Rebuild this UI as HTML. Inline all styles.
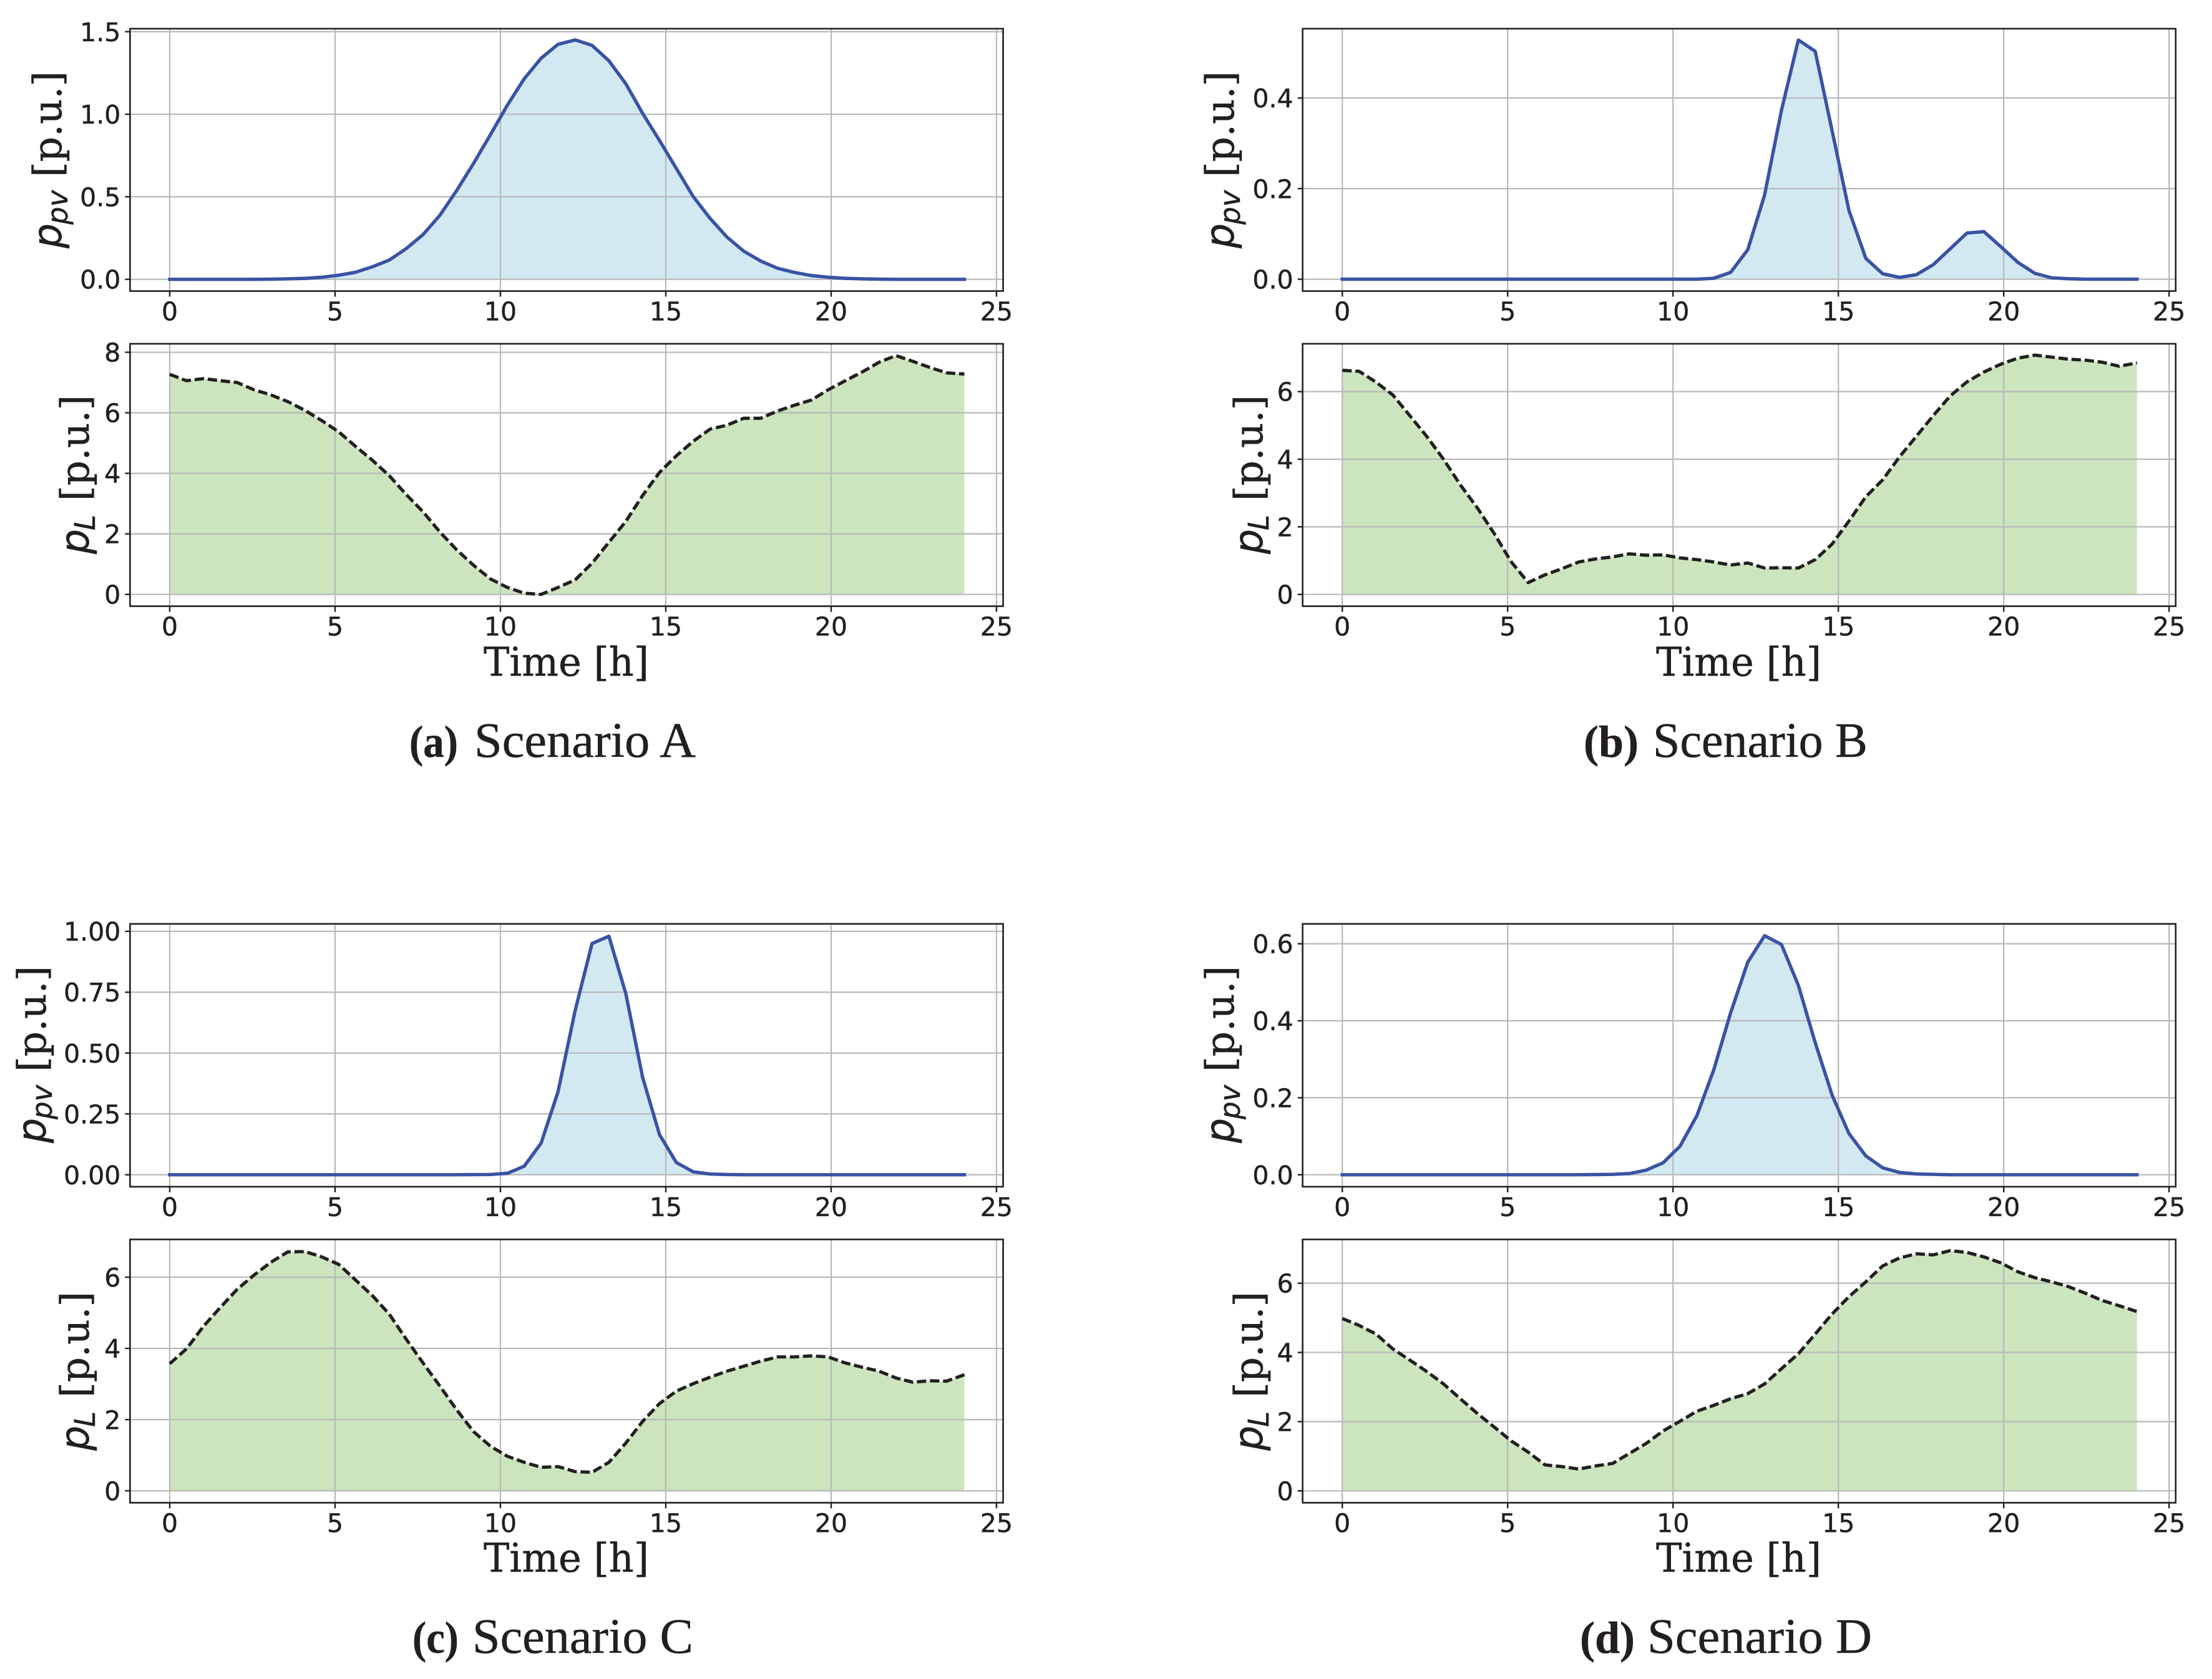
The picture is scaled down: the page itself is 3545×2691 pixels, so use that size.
<!DOCTYPE html>
<html lang="en">
<head>
<meta charset="utf-8">
<title>PV and load profiles for scenarios A to D</title>
<style>
html,body{margin:0;padding:0;background:#fff}
svg{display:block}
text{fill:#231f20;stroke:#231f20;stroke-width:0.5px}
.serif{font-family:"DejaVu Serif","Liberation Serif",serif}
.sans{font-family:"DejaVu Sans","Liberation Sans",sans-serif}
.cap{font-family:"Liberation Serif",serif;font-size:79px}
.capb{font-family:"Liberation Serif",serif;font-size:72px;font-weight:bold}
.xt{font-family:"DejaVu Serif","Liberation Serif",serif;font-size:64px}
.yl{font-size:63px}
.math{font-family:"DejaVu Sans","Liberation Sans",sans-serif;font-style:italic}
</style>
</head>
<body>
<svg id="fig" xmlns="http://www.w3.org/2000/svg" width="3545" height="2691" viewBox="0 0 3545 2691">
<rect width="3545" height="2691" fill="#fff"/>

<g id="marks"></g>

<!-- y-axis titles -->
<g class="yl" transform="translate(98,398) rotate(-90)"><text class="math">p</text><text class="math" x="38" y="10" font-size="45">pv</text><text class="serif" x="114">[p.u.]</text></g>
<g class="yl" transform="translate(142,888) rotate(-90)"><text class="math">p</text><text class="math" x="38" y="10" font-size="45">L</text><text class="serif" x="85">[p.u.]</text></g>
<g class="yl" transform="translate(1977,398) rotate(-90)"><text class="math">p</text><text class="math" x="38" y="10" font-size="45">pv</text><text class="serif" x="114">[p.u.]</text></g>
<g class="yl" transform="translate(2023,888) rotate(-90)"><text class="math">p</text><text class="math" x="38" y="10" font-size="45">L</text><text class="serif" x="85">[p.u.]</text></g>
<g class="yl" transform="translate(73,1832) rotate(-90)"><text class="math">p</text><text class="math" x="38" y="10" font-size="45">pv</text><text class="serif" x="114">[p.u.]</text></g>
<g class="yl" transform="translate(142,2325) rotate(-90)"><text class="math">p</text><text class="math" x="38" y="10" font-size="45">L</text><text class="serif" x="85">[p.u.]</text></g>
<g class="yl" transform="translate(1977,1832) rotate(-90)"><text class="math">p</text><text class="math" x="38" y="10" font-size="45">pv</text><text class="serif" x="114">[p.u.]</text></g>
<g class="yl" transform="translate(2023,2325) rotate(-90)"><text class="math">p</text><text class="math" x="38" y="10" font-size="45">L</text><text class="serif" x="85">[p.u.]</text></g>

<!-- x-axis titles -->
<text class="xt" x="775" y="1083" textLength="265" lengthAdjust="spacingAndGlyphs">Time [h]</text>
<text class="xt" x="2654" y="1083" textLength="265" lengthAdjust="spacingAndGlyphs">Time [h]</text>
<text class="xt" x="775" y="2519" textLength="265" lengthAdjust="spacingAndGlyphs">Time [h]</text>
<text class="xt" x="2654" y="2519" textLength="265" lengthAdjust="spacingAndGlyphs">Time [h]</text>

<!-- captions -->
<g><text class="capb" x="656" y="1213" textLength="78" lengthAdjust="spacingAndGlyphs">(a)</text><text class="cap" x="760" y="1213" textLength="355" lengthAdjust="spacingAndGlyphs">Scenario A</text></g>
<g><text class="capb" x="2538" y="1213" textLength="88" lengthAdjust="spacingAndGlyphs">(b)</text><text class="cap" x="2649" y="1213" textLength="344" lengthAdjust="spacingAndGlyphs">Scenario B</text></g>
<g><text class="capb" x="661" y="2649" textLength="74" lengthAdjust="spacingAndGlyphs">(c)</text><text class="cap" x="757" y="2649" textLength="354" lengthAdjust="spacingAndGlyphs">Scenario C</text></g>
<g><text class="capb" x="2532" y="2649" textLength="88" lengthAdjust="spacingAndGlyphs">(d)</text><text class="cap" x="2640" y="2649" textLength="360" lengthAdjust="spacingAndGlyphs">Scenario D</text></g>
</svg>

<script>
// ---------- data ----------
const timeHours = [0,0.51,1.02,1.53,2.04,2.55,3.06,3.57,4.09,4.6,5.11,5.62,6.13,6.64,7.15,7.66,8.17,8.68,9.19,9.7,10.21,10.72,11.23,11.74,12.26,12.77,13.28,13.79,14.3,14.81,15.32,15.83,16.34,16.85,17.36,17.87,18.38,18.89,19.4,19.91,20.43,20.94,21.45,21.96,22.47,22.98,23.49,24.03];

const pvA = [0,0,0,0,0,0,0.001,0.003,0.006,0.0126,0.025,0.043,0.076,0.117,0.186,0.271,0.388,0.539,0.703,0.877,1.055,1.215,1.339,1.423,1.45,1.417,1.324,1.185,1.005,0.841,0.671,0.501,0.369,0.256,0.17,0.111,0.067,0.042,0.023,0.013,0.006,0.003,0.001,0,0,0,0,0];
const loadA = [7.27,7.06,7.13,7.06,7.0,6.76,6.59,6.37,6.08,5.74,5.37,4.89,4.43,3.92,3.3,2.73,2.06,1.47,0.96,0.51,0.23,0.04,0,0.23,0.48,1.03,1.72,2.41,3.27,4.03,4.58,5.06,5.46,5.59,5.82,5.82,6.06,6.25,6.42,6.76,7.06,7.35,7.67,7.89,7.7,7.5,7.32,7.28];

const pvB = [0,0,0,0,0,0,0,0,0,0,0,0,0,0,0,0,0,0,0,0,0,0,0.002,0.015,0.065,0.186,0.373,0.528,0.503,0.328,0.152,0.046,0.012,0.004,0.01,0.032,0.067,0.102,0.105,0.072,0.037,0.013,0.003,0.001,0,0,0,0];
const loadB = [6.63,6.6,6.28,5.9,5.29,4.68,4.0,3.24,2.55,1.79,0.96,0.35,0.58,0.76,0.96,1.05,1.11,1.2,1.16,1.17,1.08,1.03,0.96,0.87,0.93,0.78,0.79,0.78,1.03,1.49,2.17,2.89,3.39,4.07,4.68,5.29,5.87,6.29,6.58,6.81,6.99,7.08,7.02,6.96,6.93,6.87,6.75,6.85];

const pvC = [0,0,0,0,0,0,0,0,0,0,0,0,0,0,0,0,0,0,0.0005,0.001,0.006,0.035,0.13,0.34,0.675,0.95,0.98,0.745,0.4,0.165,0.05,0.012,0.003,0.001,0,0,0,0,0,0,0,0,0,0,0,0,0,0];
const loadC = [3.57,3.99,4.62,5.15,5.66,6.06,6.42,6.71,6.72,6.57,6.36,5.92,5.48,4.96,4.26,3.59,2.94,2.27,1.66,1.25,0.97,0.8,0.66,0.68,0.54,0.52,0.8,1.34,1.95,2.45,2.8,3.01,3.19,3.36,3.5,3.64,3.76,3.76,3.79,3.76,3.59,3.47,3.36,3.17,3.05,3.09,3.08,3.26];

const pvD = [0,0,0,0,0,0,0,0,0,0,0,0,0,0,0,0.0005,0.001,0.003,0.012,0.031,0.074,0.153,0.272,0.42,0.552,0.621,0.598,0.492,0.343,0.207,0.107,0.049,0.018,0.006,0.002,0.001,0,0,0,0,0,0,0,0,0,0,0,0];
const loadD = [4.98,4.78,4.53,4.1,3.78,3.45,3.09,2.66,2.23,1.84,1.44,1.12,0.75,0.7,0.63,0.72,0.79,1.08,1.37,1.73,2.01,2.3,2.47,2.66,2.81,3.09,3.53,3.96,4.53,5.11,5.61,6.04,6.5,6.73,6.85,6.82,6.94,6.89,6.76,6.59,6.33,6.16,6.04,5.9,5.71,5.5,5.35,5.18];

const xTicks = [0,5,10,15,20,25];
const xTickLabels = ['0','5','10','15','20','25'];
const xDomain = [-1.2,25.2];

const ticksPvA = [0,0.5,1,1.5];
const labelsPvA = ['0.0','0.5','1.0','1.5'];
const ticksLoadA = [0,2,4,6,8];
const labelsLoadA = ['0','2','4','6','8'];
const ticksPvB = [0,0.2,0.4];
const labelsPvB = ['0.0','0.2','0.4'];
const ticksLoadB = [0,2,4,6];
const labelsLoadB = ['0','2','4','6'];
const ticksPvC = [0,0.25,0.5,0.75,1];
const labelsPvC = ['0.00','0.25','0.50','0.75','1.00'];
const ticksLoadC = [0,2,4,6];
const labelsLoadC = ['0','2','4','6'];
const ticksPvD = [0,0.2,0.4,0.6];
const labelsPvD = ['0.0','0.2','0.4','0.6'];
const ticksLoadD = [0,2,4,6];
const labelsLoadD = ['0','2','4','6'];

const domainPvA = [-0.071,1.518];
const domainLoadA = [-0.39,8.28];
const domainPvB = [-0.0262,0.553];
const domainLoadB = [-0.349,7.415];
const domainPvC = [-0.0492,1.0308];
const domainLoadC = [-0.335,7.06];
const domainPvD = [-0.0311,0.6517];
const domainLoadD = [-0.344,7.265];

// ---------- layout ----------
const LEFT_COL = {left:208.4,right:1607.6};
const RIGHT_COL = {left:2087.6,right:3486.8};
const ROW1_UP = {top:46,bottom:466.5};
const ROW1_LOW = {top:551,bottom:971.6};
const ROW2_UP = {top:1480.7,bottom:1902};
const ROW2_LOW = {top:1986.5,bottom:2408.5};

const panels = [
  {id:'scenario-a-pv',col:LEFT_COL,row:ROW1_UP,kind:'pv',values:pvA,domain:domainPvA,ticks:ticksPvA,labels:labelsPvA},
  {id:'scenario-a-load',col:LEFT_COL,row:ROW1_LOW,kind:'load',values:loadA,domain:domainLoadA,ticks:ticksLoadA,labels:labelsLoadA},
  {id:'scenario-b-pv',col:RIGHT_COL,row:ROW1_UP,kind:'pv',values:pvB,domain:domainPvB,ticks:ticksPvB,labels:labelsPvB},
  {id:'scenario-b-load',col:RIGHT_COL,row:ROW1_LOW,kind:'load',values:loadB,domain:domainLoadB,ticks:ticksLoadB,labels:labelsLoadB},
  {id:'scenario-c-pv',col:LEFT_COL,row:ROW2_UP,kind:'pv',values:pvC,domain:domainPvC,ticks:ticksPvC,labels:labelsPvC},
  {id:'scenario-c-load',col:LEFT_COL,row:ROW2_LOW,kind:'load',values:loadC,domain:domainLoadC,ticks:ticksLoadC,labels:labelsLoadC},
  {id:'scenario-d-pv',col:RIGHT_COL,row:ROW2_UP,kind:'pv',values:pvD,domain:domainPvD,ticks:ticksPvD,labels:labelsPvD},
  {id:'scenario-d-load',col:RIGHT_COL,row:ROW2_LOW,kind:'load',values:loadD,domain:domainLoadD,ticks:ticksLoadD,labels:labelsLoadD}
];

const SVGNS = 'http://www.w3.org/2000/svg';
const INK = '#231f20';
const GRID = '#b8b8b8';
const root = document.getElementById('marks');

function make(tag, attrs, parent){
  const el = document.createElementNS(SVGNS, tag);
  for (const k in attrs) el.setAttribute(k, attrs[k]);
  parent.appendChild(el);
  return el;
}

function drawPanel(p){
  const L = p.col.left, R = p.col.right, T = p.row.top, B = p.row.bottom;
  const xScale = v => L + (v - xDomain[0]) / (xDomain[1] - xDomain[0]) * (R - L);
  const yScale = v => B - (v - p.domain[0]) / (p.domain[1] - p.domain[0]) * (B - T);

  const g = make('g', {}, root);
  
  

  // area
  const linePts = timeHours.map((h, i) => xScale(h).toFixed(2) + ',' + yScale(p.values[i]).toFixed(2));
  const areaD = 'M' + xScale(timeHours[0]).toFixed(2) + ',' + yScale(0).toFixed(2) + ' L' + linePts.join(' L') +
    ' L' + xScale(timeHours[timeHours.length - 1]).toFixed(2) + ',' + yScale(0).toFixed(2) + ' Z';
  const area = make('path', {d: areaD, fill: p.kind === 'pv' ? '#d3e9f2' : '#cce5be', stroke: 'none'}, g);
  
  

  // vertical grid + x ticks + labels
  xTicks.forEach((t, i) => {
    const x = xScale(t);
    const gl = make('line', {x1: x, x2: x, y1: T, y2: B, stroke: GRID, 'stroke-width': 2.2}, g);
    
    
    const tk = make('line', {x1: x, x2: x, y1: B, y2: B + 9, stroke: INK, 'stroke-width': 2.4}, g);
    
    
    const lb = make('text', {x: x, y: B + 47, 'text-anchor': 'middle', 'font-size': 41, 'class': 'sans'}, g);
    lb.textContent = xTickLabels[i];
    
    
  });

  // horizontal grid + y ticks + labels
  p.ticks.forEach((t, i) => {
    const y = yScale(t);
    const gl = make('line', {x1: L, x2: R, y1: y, y2: y, stroke: GRID, 'stroke-width': 2.2}, g);
    
    
    const tk = make('line', {x1: L - 8, x2: L, y1: y, y2: y, stroke: INK, 'stroke-width': 2.4}, g);
    
    
    const lb = make('text', {x: L - 15, y: y + 15, 'text-anchor': 'end', 'font-size': 41, 'class': 'sans'}, g);
    lb.textContent = p.labels[i];
    
    
  });

  // series line
  const lineAttrs = p.kind === 'pv'
    ? {fill: 'none', stroke: '#3953a4', 'stroke-width': 5.4, 'stroke-linejoin': 'round', 'stroke-linecap': 'square', points: linePts.join(' ')}
    : {fill: 'none', stroke: INK, 'stroke-width': 5.2, 'stroke-linejoin': 'round', 'stroke-dasharray': '15 6', points: linePts.join(' ')};
  const line = make('polyline', lineAttrs, g);
  
  

  // frame
  const frame = make('rect', {x: L, y: T, width: R - L, height: B - T, fill: 'none', stroke: INK, 'stroke-width': 2.6}, g);
  
  
}

panels.forEach(drawPanel);
</script>
</body>
</html>
